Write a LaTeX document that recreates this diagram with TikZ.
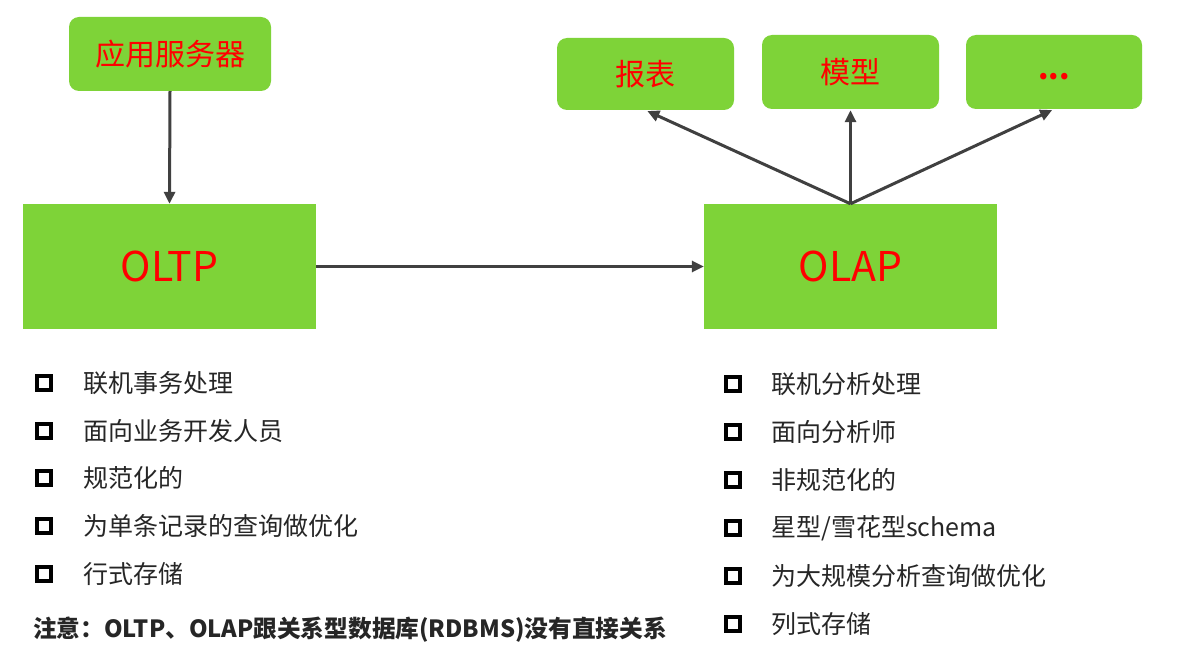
\documentclass[tikz,border=0pt]{standalone}
\usepackage{fontspec}
\setmainfont{Noto Sans CJK SC}
\usetikzlibrary{arrows.meta}
\definecolor{boxgreen}{RGB}{126,211,56}
\definecolor{arrowgray}{RGB}{64,64,64}
\tikzset{
  gbox/.style={fill=boxgreen, draw=none, inner sep=0pt, text=red},
  rbox/.style={gbox, rounded corners=10pt},
  conn/.style={draw=arrowgray, line width=3pt, -{Triangle[length=12pt,width=11pt]}},
  bul/.style={draw=black, line width=3.5pt, minimum width=14pt, minimum height=14pt, inner sep=0pt},
  item/.style={anchor=west, inner sep=0pt, font=\fontsize{25}{30}\selectfont, text=black!85},
}
\begin{document}
\begin{tikzpicture}[x=1pt,y=-1pt]
\useasboundingbox[fill=white] (0,0) rectangle (1182,652);
% boxes
\node[rbox, minimum width=202pt, minimum height=74pt, font=\fontsize{30}{34}\selectfont] (app) at (170,54) {应用服务器};
\node[gbox, minimum width=293pt, minimum height=125pt, font=\fontsize{41}{44}\selectfont] (oltp) at (169.5,266.5) {OLTP};
\node[gbox, minimum width=293pt, minimum height=125pt, font=\fontsize{41}{44}\selectfont] (olap) at (850.5,266.5) {OLAP};
\node[rbox, minimum width=177pt, minimum height=72pt, font=\fontsize{30}{34}\selectfont] (bb) at (645.5,74) {报表};
\node[rbox, minimum width=177pt, minimum height=74pt, font=\fontsize{30}{34}\selectfont] (mx) at (850.5,72) {模型};
\node[rbox, minimum width=176pt, minimum height=74pt, font=\bfseries\fontsize{30}{34}\selectfont] (etc) at (1054,72) {\smash{\raisebox{-8pt}{...}}};
% connectors
\draw[conn] (app.south) -- (oltp.north);
\draw[conn] (oltp.east) -- (olap.west);
\draw[conn, shorten >=2pt] (olap.north) -- (bb.south);
\draw[conn, shorten >=1pt] (olap.north) -- (mx.south);
\draw[conn, shorten >=2pt] (olap.north) -- (etc.south);
% left list
\node[bul] (lb1) at (44,383) {}; \node[item] (lt1) at (83,383) {联机事务处理};
\node[bul] (lb2) at (44,431) {}; \node[item] (lt2) at (83,431) {面向业务开发人员};
\node[bul] (lb3) at (44,478) {}; \node[item] (lt3) at (83,478) {规范化的};
\node[bul] (lb4) at (44,526) {}; \node[item] (lt4) at (83,526) {为单条记录的查询做优化};
\node[bul] (lb5) at (44,574) {}; \node[item] (lt5) at (83,574) {行式存储};
\node[anchor=west, inner sep=0pt, font=\bfseries\fontsize{23.7}{28}\selectfont, text=black!85] (note) at (33,630) {注意：OLTP、OLAP跟关系型数据库(RDBMS)没有直接关系};
% right list
\node[bul] (rb1) at (733,384) {}; \node[item] (rt1) at (771,384) {联机分析处理};
\node[bul] (rb2) at (733,432) {}; \node[item] (rt2) at (771,432) {面向分析师};
\node[bul] (rb3) at (733,480) {}; \node[item] (rt3) at (771,480) {非规范化的};
\node[bul] (rb4) at (733,528) {}; \node[item] (rt4) at (771,528) {星型/雪花型schema};
\node[bul] (rb5) at (733,576) {}; \node[item] (rt5) at (771,576) {为大规模分析查询做优化};
\node[bul] (rb6) at (733,624) {}; \node[item] (rt6) at (771,624) {列式存储};
\end{tikzpicture}
\end{document}
